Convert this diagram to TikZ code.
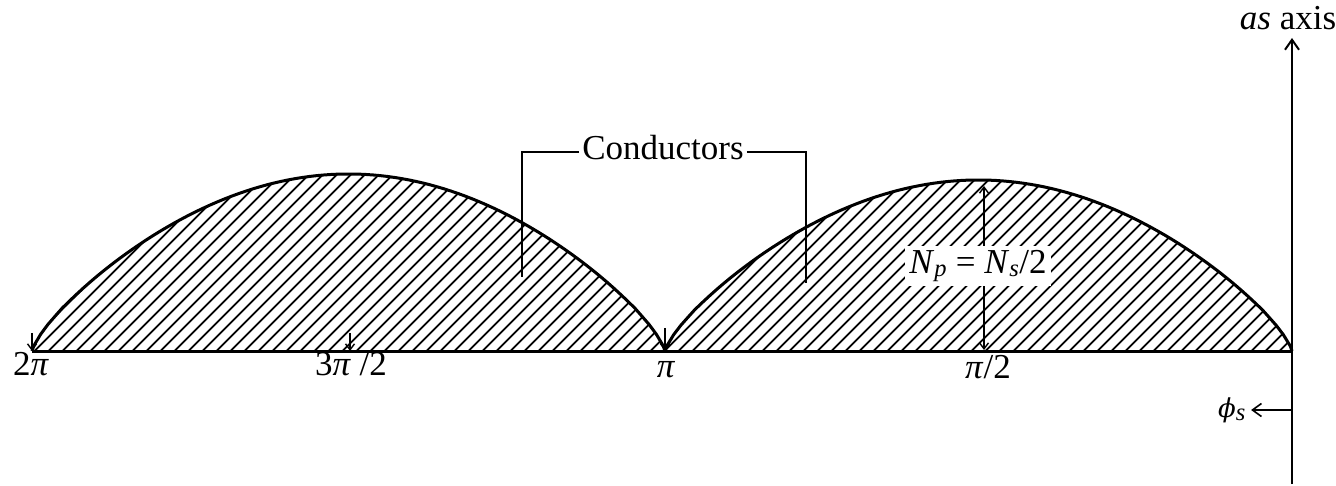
\documentclass[tikz,border=0pt]{standalone}
\usepackage{fontspec}
\setmainfont{Liberation Serif}
\newfontfamily\djvserif{DejaVu Serif}
\usetikzlibrary{arrows.meta,patterns.meta}
\begin{document}
\begin{tikzpicture}[x=1pt,y=-1pt,
  curve/.style={line width=3pt, line join=round},
  hatch/.style={pattern={Lines[angle=45,distance=10.5pt,line width=2.1pt]}},
  axisline/.style={line width=2.4pt},
  barb/.style={-{Straight Barb[length=10pt,width=14pt,line width=2pt]}},
  smallbarb/.style={line width=1.6pt,-{Straight Barb[length=6pt,width=9pt,line width=1.4pt]}},
  lbl/.style={font=\fontsize{35}{38}\selectfont, inner sep=1pt},
  bracket/.style={line width=2.4pt}]
\useasboundingbox (0,0) rectangle (1336,486);
\coordinate (L) at (32,351);
\coordinate (M) at (665,351);
\coordinate (R) at (1292,351);
% hatched region
\fill[hatch] (L) -- plot[domain=0.5:179.5,samples=90] ({32+3.516667*\x},{351-177*pow(sin(\x),0.75)}) -- (M)
  -- plot[domain=0.5:179.5,samples=90] ({665+3.483333*\x},{351-171*pow(sin(\x),0.75)}) -- (R) -- cycle;
% outline
\draw[curve] (L) -- plot[domain=0.5:179.5,samples=90] ({32+3.516667*\x},{351-177*pow(sin(\x),0.75)}) -- (M)
  -- plot[domain=0.5:179.5,samples=90] ({665+3.483333*\x},{351-171*pow(sin(\x),0.75)}) -- (R);
\draw[curve] (L) -- (R);
% as axis
\coordinate (axtop) at (1292,38);
\coordinate (axbot) at (1292,484);
\draw[axisline,barb] (axbot) -- (axtop);
\node[lbl] (astext) at (1288,18) {\textit{as} axis};
% conductors
\node[lbl] (cond) at (663,148) {Conductors};
\coordinate (cl) at (522,277);
\coordinate (cr) at (806,283);
\draw[bracket] ([xshift=-2pt,yshift=-4pt]cond.west) -| (cl);
\draw[bracket] ([xshift=2pt,yshift=-4pt]cond.east) -| (cr);
% Np label
\node[lbl, fill=white, inner sep=4pt] (np) at (978,266) {\textit{N}\textsubscript{\textit{p}} = \textit{N}\textsubscript{\textit{s}}/2};
\coordinate (ptop) at (984,186);
\coordinate (pbot) at (984,350);
\draw[smallbarb] (np.north -| ptop) -- (ptop);
\draw[smallbarb] (np.south -| pbot) -- (pbot);
% ticks
\coordinate (t0) at (32,333);
\coordinate (t1) at (350,333);
\coordinate (t1b) at (350,351);
\coordinate (t2) at (665,328);
\draw[smallbarb] (t0) -- (L);
\draw[smallbarb] (t1) -- (t1b);
\draw[smallbarb] (t2) -- (M);
% tick labels
\node[lbl, anchor=base] (l2pi) at (31,375) {2\textit{π}};
\node[lbl, anchor=base] (l32) at (351,375) {3\textit{π} /2};
\node[lbl, anchor=base] (lpi) at (666,377) {\textit{π}};
\node[lbl, anchor=base] (lpi2) at (988,378) {\textit{π}/2};
% phi_s
\node[lbl] (phi) at (1232,410) {{\djvserif\itshape\fontsize{26}{30}\selectfont ϕ}\textsubscript{\textit{s}}};
\coordinate (phiA) at (1292,410);
\draw[line width=1.8pt,-{Straight Barb[length=9pt,width=13pt,line width=1.6pt]}] (phiA) -- ([xshift=4pt]phi.east |- phiA);
\end{tikzpicture}
\end{document}
